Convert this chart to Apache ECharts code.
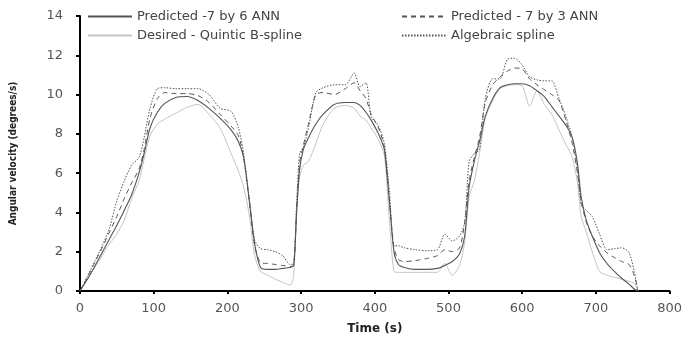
<!DOCTYPE html>
<html>
<head>
<meta charset="utf-8">
<script src="https://cdn.jsdelivr.net/npm/echarts@6/dist/echarts.min.js"></script>
<style>
  html, body { margin: 0; padding: 0; background: #fff; }
  #chart { width: 685px; height: 340px; }
</style>
</head>
<body>
<div id="chart"></div>
<script>
// Sample times (s) shared by all four velocity profiles
var time = [0, 10, 20, 30, 40, 50, 60, 70, 80, 87, 95, 105, 115, 130, 145, 160, 175, 190, 205, 215,
  222, 230, 237, 245, 255, 265, 275, 285, 290, 294, 298, 303, 310, 320, 330, 345, 360, 372, 380, 388,
  395, 405, 413, 420, 426, 432, 440, 455, 470, 485, 495, 505, 515, 522, 528, 535, 542, 550, 560, 570,
  580, 590, 600, 610, 620, 630, 640, 650, 660, 668, 675, 680, 687, 695, 705, 715, 725, 735, 745, 752, 757];

// Angular velocity (degrees/s)
var ann6 = [0, 0.6, 1.25, 1.95, 2.65, 3.35, 4.1, 4.9, 6.0, 7.0, 8.3, 9.1, 9.55, 9.85, 9.9, 9.7, 9.3, 8.8, 8.2, 7.6,
  6.8, 4.5, 2.4, 1.2, 1.1, 1.1, 1.15, 1.2, 1.3, 4.0, 6.2, 7.2, 7.8, 8.5, 9.0, 9.5, 9.6, 9.6, 9.45, 9.1,
  8.7, 8.0, 7.2, 4.5, 2.0, 1.35, 1.2, 1.1, 1.1, 1.15, 1.3, 1.5, 1.9, 2.8, 5.3, 6.6, 7.6, 8.9, 9.8, 10.35,
  10.5, 10.55, 10.55, 10.45, 10.2, 9.9, 9.4, 8.9, 8.4, 7.8, 6.5, 4.8, 3.6, 2.8, 1.95, 1.4, 1.0, 0.65, 0.35, 0.1, 0];

var ann3 = [0, 0.7, 1.45, 2.2, 3.0, 3.8, 4.7, 5.5, 6.2, 7.2, 8.8, 9.8, 10.1, 10.05, 10.05, 9.95, 9.6, 9.0, 8.4, 7.9,
  6.8, 4.5, 2.3, 1.45, 1.4, 1.35, 1.3, 1.25, 1.3, 4.2, 6.5, 7.4, 8.5, 10.0, 10.1, 10.0, 10.3, 10.6, 10.2, 9.8,
  9.0, 8.3, 7.3, 4.5, 2.2, 1.6, 1.5, 1.55, 1.65, 1.8, 2.1, 2.0, 2.2, 3.5, 5.6, 6.8, 7.8, 9.6, 10.5, 10.9,
  11.2, 11.35, 11.3, 10.8, 10.5, 10.25, 10.0, 9.7, 8.6, 7.5, 6.0, 4.6, 3.5, 2.8, 2.3, 1.95, 1.7, 1.5, 1.35, 0.8, 0];

var quintic = [0, 0.6, 1.2, 1.8, 2.4, 2.9, 3.6, 4.7, 5.6, 6.7, 7.9, 8.5, 8.75, 9.05, 9.35, 9.5, 9.0, 8.3, 7.0, 6.1,
  5.3, 3.8, 1.8, 1.0, 0.8, 0.6, 0.45, 0.3, 0.8, 4.3, 5.8, 6.4, 6.6, 7.5, 8.5, 9.3, 9.45, 9.3, 8.9, 8.7,
  8.3, 7.7, 6.9, 3.5, 1.0, 0.95, 0.95, 0.95, 0.95, 0.95, 1.4, 0.8, 1.3, 2.5, 4.8, 5.6, 7.0, 8.8, 9.7, 10.3,
  10.45, 10.5, 10.45, 9.4, 10.2, 9.5, 9.0, 8.2, 7.4, 6.8, 5.5, 3.8, 3.0, 2.0, 1.0, 0.8, 0.7, 0.6, 0.5, 0.4, 0];

var algebraic = [0, 0.75, 1.5, 2.3, 3.2, 4.6, 5.6, 6.4, 6.8, 7.8, 9.3, 10.3, 10.35, 10.3, 10.3, 10.3, 10.0, 9.3, 9.15, 8.3,
  7.0, 4.6, 2.6, 2.15, 2.1, 2.0, 1.8, 1.35, 1.4, 4.5, 7.0, 7.3, 8.3, 10.1, 10.35, 10.5, 10.5, 11.1, 10.4, 10.6,
  8.9, 8.4, 7.5, 5.0, 2.3, 2.3, 2.2, 2.1, 2.05, 2.1, 2.9, 2.55, 2.8, 3.5, 6.6, 7.0, 7.2, 9.8, 10.8, 10.8,
  11.8, 11.85, 11.5, 10.9, 10.75, 10.7, 10.7, 9.8, 8.8, 7.8, 6.2, 4.4, 4.1, 3.8, 2.9, 2.1, 2.15, 2.2, 1.95, 1.0, 0];

var xTicks = { min: 0, max: 800, interval: 100 };
var yTicks = { min: 0, max: 14, interval: 2 };

var names = {
  ann6: 'Predicted -7 by 6 ANN',
  ann3: 'Predicted - 7 by 3 ANN',
  quintic: 'Desired - Quintic B-spline',
  algebraic: 'Algebraic spline'
};

function pairs(vals) {
  return time.map(function (t, i) { return [t, vals[i]]; });
}

function lineSeries(name, vals, color, type, width, z) {
  return {
    name: name,
    type: 'line',
    data: pairs(vals),
    showSymbol: false,
    symbol: 'none',
    smooth: 0.25,
    z: z,
    lineStyle: { color: color, width: width, type: type },
    itemStyle: { color: color }
  };
}

var font = '"DejaVu Sans", sans-serif';

// one legend entry per component, laid out in two rows and two columns
function legendAt(name, left, top) {
  return {
    show: true,
    data: [name],
    left: left,
    top: top,
    orient: 'horizontal',
    padding: 0,
    itemWidth: 44,
    itemHeight: 14,
    itemStyle: { opacity: 0 },
    textStyle: { fontFamily: font, fontSize: 13, color: '#444' },
    selectedMode: false
  };
}

var chart = echarts.init(document.getElementById('chart'), null, { renderer: 'canvas' });

chart.setOption({
  animation: false,
  backgroundColor: '#fff',
  grid: { left: 77, right: 12, top: 16, bottom: 48, containLabel: false },
  legend: [
    legendAt(names.ann6, 87, 10),
    legendAt(names.ann3, 401, 10),
    legendAt(names.quintic, 87, 29),
    legendAt(names.algebraic, 401, 29)
  ],
  xAxis: {
    type: 'value',
    min: xTicks.min, max: xTicks.max, interval: xTicks.interval,
    name: 'Time (s)',
    nameLocation: 'middle',
    nameGap: 32,
    nameTextStyle: { fontFamily: font, fontSize: 12, fontWeight: 'bold', color: '#222' },
    axisLine: { lineStyle: { color: '#000', width: 2 } },
    axisTick: { show: true, inside: false, length: 3, lineStyle: { color: '#000', width: 2 } },
    axisLabel: { fontFamily: font, fontSize: 13, color: '#555', margin: 11 },
    splitLine: { show: false }
  },
  yAxis: {
    type: 'value',
    min: yTicks.min, max: yTicks.max, interval: yTicks.interval,
    name: 'Angular velocity (degrees/s)',
    nameLocation: 'middle',
    nameRotate: 90,
    nameGap: 62,
    nameTextStyle: { fontFamily: '"DejaVu Sans Condensed", "DejaVu Sans", sans-serif', fontSize: 10, fontWeight: 'bold', color: '#222' },
    axisLine: { show: true, lineStyle: { color: '#000', width: 2 } },
    axisTick: { show: true, inside: false, length: 4, lineStyle: { color: '#000', width: 2 } },
    axisLabel: { fontFamily: font, fontSize: 13, color: '#555', margin: 17 },
    splitLine: { show: false }
  },
  series: [
    lineSeries(names.ann6, ann6, '#555555', 'solid', 1.1, 4),
    lineSeries(names.ann3, ann3, '#555555', [5, 4], 1, 3),
    lineSeries(names.quintic, quintic, '#c4c4c4', 'solid', 1, 1),
    lineSeries(names.algebraic, algebraic, '#555555', [1.5, 1.5], 1, 2)
  ]
});
</script>
</body>
</html>
